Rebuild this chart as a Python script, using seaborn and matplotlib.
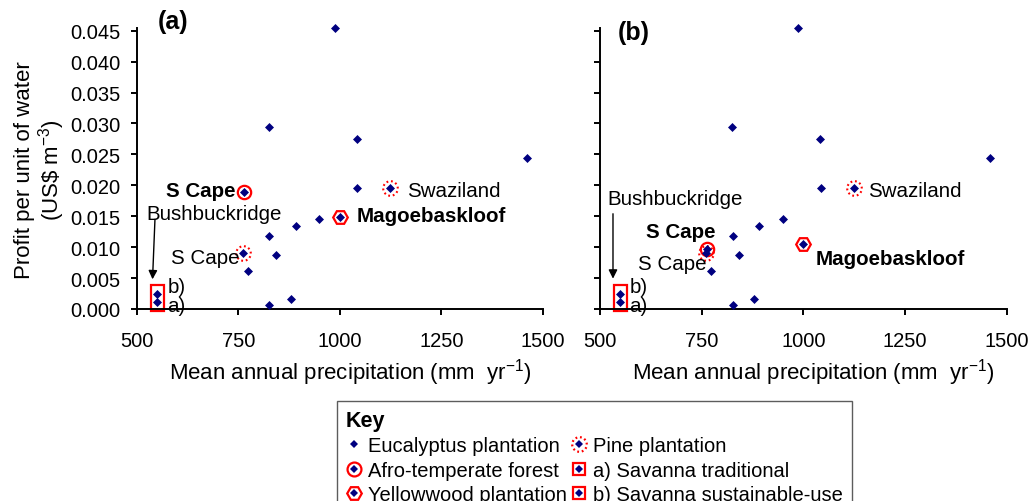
import numpy as np
import pandas as pd
import matplotlib
matplotlib.use("Agg")
import matplotlib.pyplot as plt
import seaborn as sns
from matplotlib.path import Path
from matplotlib.lines import Line2D
from matplotlib.patches import Rectangle
from matplotlib.legend_handler import HandlerTuple

# values
euc_precip = [987, 825, 1041, 1460, 1043, 949, 891, 826, 843, 774, 826, 879]
euc_profit = [0.0454, 0.0294, 0.0275, 0.0244, 0.0196, 0.0145, 0.0135, 0.0118,
              0.0088, 0.0062, 0.0006, 0.0016]
pine_precip = [761, 1124]
pine_profit = [0.0090, 0.0196]
afro_precip = [763]
afro_profit = {"a": [0.0190], "b": [0.0097]}
yellow_precip = [1000]
yellow_profit = {"a": [0.0148], "b": [0.0105]}
sav_precip = [549, 549]
sav_profit = [0.0011, 0.0024]

x_ticks = [500, 750, 1000, 1250, 1500]
y_ticks = [0.000, 0.005, 0.010, 0.015, 0.020, 0.025, 0.030, 0.035, 0.040, 0.045]

NAVY = "#000080"
RED = "#FF0000"
FS = 14.8

sns.set_style("ticks")
plt.rcParams["font.family"] = ["Liberation Sans", "DejaVu Sans"]
plt.rcParams["mathtext.fontset"] = "custom"
plt.rcParams["mathtext.rm"] = "Liberation Sans"
plt.rcParams["mathtext.it"] = "Liberation Sans:italic"
plt.rcParams["mathtext.bf"] = "Liberation Sans:bold"
for key in ["text.color", "axes.labelcolor", "xtick.color", "ytick.color"]:
    plt.rcParams[key] = "black"


def dotted_circle(n=10, frac=0.4):
    verts, codes = [], []
    for k in range(n):
        t0 = 2 * np.pi * k / n
        for j, t in enumerate(np.linspace(t0, t0 + 2 * np.pi / n * frac, 4)):
            verts.append((np.cos(t), np.sin(t)))
            codes.append(Path.MOVETO if j == 0 else Path.LINETO)
    return Path(verts, codes)


DOTTED = dotted_circle()
ring = dict(ls="none", mfc="none", mec=RED, mew=1.6, clip_on=False, zorder=2)

fig = plt.figure(figsize=(10.3, 5.02), dpi=100)
ax1 = fig.add_axes([0.1327, 0.3825, 0.3945, 0.5592])
ax2 = fig.add_axes([0.5825, 0.3825, 0.3949, 0.5592])

for ax, panel in [(ax1, "a"), (ax2, "b")]:
    df = pd.DataFrame({
        "precip": euc_precip + pine_precip + afro_precip + yellow_precip + sav_precip,
        "profit": euc_profit + pine_profit + afro_profit[panel]
        + yellow_profit[panel] + sav_profit,
    })
    sns.scatterplot(data=df, x="precip", y="profit", ax=ax, marker="D", s=21,
                    color=NAVY, linewidth=0, clip_on=False, zorder=3)
    ax.plot(afro_precip, afro_profit[panel], marker="o", ms=9.6, **ring)
    ax.plot(yellow_precip, yellow_profit[panel], marker="H", ms=10.5, **ring)
    ax.plot(pine_precip, pine_profit, marker=DOTTED, ms=10.5,
            **{**ring, "mew": 1.5})
    # box round both savanna points
    ax.add_patch(Rectangle((sav_precip[0] - 14, min(sav_profit) - 0.0015),
                           32, max(sav_profit) - min(sav_profit) + 0.0029,
                           fill=False, ec=RED, lw=1.6, clip_on=False, zorder=2))

    ax.set_xlim(500, 1500)
    ax.set_ylim(0, 0.0454)
    ax.set_xticks(x_ticks)
    ax.set_yticks(y_ticks)
    ax.tick_params(direction="out", length=4, width=1.4, labelsize=14.5)
    ax.tick_params(axis="y", pad=8)
    ax.tick_params(axis="x", pad=12)
    sns.despine(ax=ax)
    for s in ["left", "bottom"]:
        ax.spines[s].set_linewidth(1.4)
        ax.spines[s].set_color("black")
    ax.set_xlabel("Mean annual precipitation (mm  yr$^{-1}$)", fontsize=16,
                  labelpad=4)
    ax.xaxis.label.set_x(0.525)

ax1.set_yticklabels([f"{v:.3f}" for v in y_ticks])
ax2.set_yticklabels([])
ax1.set_ylabel("Profit per unit of water\n(US\\$ m$^{-3}$)", fontsize=16,
               labelpad=2, linespacing=1.05)
ax2.set_ylabel("")

arrow = dict(arrowstyle="-|>", color="black", lw=1, mutation_scale=13,
             shrinkA=0, shrinkB=0)

# panel (a) annotations
ax1.text(552, 0.0465, "(a)", fontsize=18, fontweight="bold", va="center")
ax1.text(742, 0.0191, "S Cape", fontsize=FS, fontweight="bold", ha="right", va="center")
ax1.text(525, 0.0154, "Bushbuckridge", fontsize=FS, va="center")
ax1.annotate("", xy=(539, 0.0048), xytext=(545, 0.0145), arrowprops=arrow)
ax1.text(752, 0.0083, "S Cape", fontsize=FS, ha="right", va="center")
ax1.text(576, 0.0036, "b)", fontsize=FS, va="center")
ax1.text(576, 0.0005, "a)", fontsize=FS, va="center")
ax1.text(1165, 0.0191, "Swaziland", fontsize=FS, va="center")
ax1.text(1042, 0.0151, "Magoebaskloof", fontsize=FS, fontweight="bold", va="center")

# panel (b) annotations
ax2.text(544, 0.0448, "(b)", fontsize=18, fontweight="bold", va="center")
ax2.text(517, 0.0178, "Bushbuckridge", fontsize=FS, va="center")
ax2.annotate("", xy=(532, 0.0049), xytext=(532, 0.0154), arrowprops=arrow)
ax2.text(783, 0.0125, "S Cape", fontsize=FS, fontweight="bold", ha="right", va="center")
ax2.text(761, 0.0073, "S Cape", fontsize=FS, ha="right", va="center")
ax2.text(572, 0.0036, "b)", fontsize=FS, va="center")
ax2.text(572, 0.0005, "a)", fontsize=FS, va="center")
ax2.text(1158, 0.0191, "Swaziland", fontsize=FS, va="center")
ax2.text(1029, 0.0081, "Magoebaskloof", fontsize=FS, fontweight="bold", va="center")

# key (bottom row is cut by the figure edge, as in the original)
dia = Line2D([], [], marker="D", ms=4.4, ls="none", color=NAVY, mew=0)
lring = dict(ls="none", mfc="none", mec=RED, mew=1.6)
h_euc = dia
h_afro = (Line2D([], [], marker="o", ms=10, **lring), dia)
h_yel = (Line2D([], [], marker="H", ms=10.5, **lring), dia)
h_pine = (Line2D([], [], marker=DOTTED, ms=10.5, **lring), dia)
h_sav = (Line2D([], [], marker="s", ms=9, **lring), dia)
handles = [h_euc, h_afro, h_yel, h_pine, h_sav, h_sav]
labels = ["Eucalyptus plantation", "Afro-temperate forest", "Yellowwood plantation",
          "Pine plantation", "a) Savanna traditional", "b) Savanna sustainable-use"]
leg = fig.legend(handles, labels, ncol=2, loc="upper left",
                 bbox_to_anchor=(337 / 1030, 1 - 401.5 / 502),
                 fontsize=14.5, title="Key", alignment="left",
                 title_fontproperties={"weight": "bold", "size": 15.5},
                 handler_map={tuple: HandlerTuple(ndivide=1, pad=0)},
                 frameon=True, fancybox=False, edgecolor="#333333",
                 handlelength=0.8, handletextpad=0.3, columnspacing=0.2,
                 labelspacing=0.28, borderpad=0.45, borderaxespad=0)
leg.get_frame().set_linewidth(1.0)

fig.savefig("out.png", dpi=100)
